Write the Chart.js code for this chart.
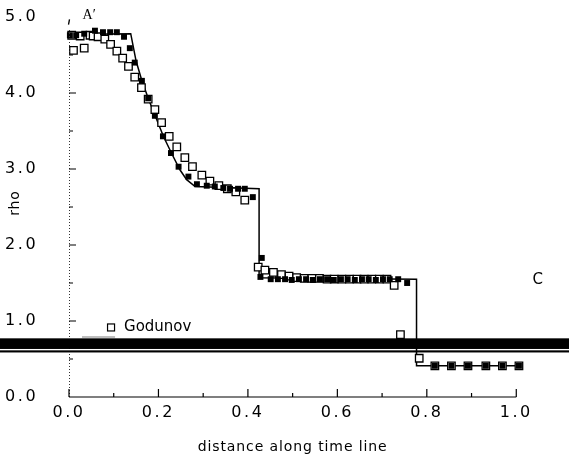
<!DOCTYPE html>
<html><head><meta charset="utf-8">
<script src="https://cdn.jsdelivr.net/npm/chart.js@4/dist/chart.umd.min.js"></script>
<style>html,body{margin:0;padding:0;background:#fff}</style>
</head><body>
<canvas id="c" width="569" height="468"></canvas>
<script>
// ---- tick labels ----
const xTicks = [0, 0.2, 0.4, 0.6, 0.8, 1.0];
const xMinorTicks = [0.1, 0.3, 0.5, 0.7, 0.9];
const yTicks = [0, 1, 2, 3, 4, 5];
const yMinorTicks = [0.5, 1.5, 2.5, 3.5, 4.5];

// ---- exact solution (solid line) : [distance, rho] ----
const exactPts = [
  [0, 4.77], [0.138, 4.78], [0.150, 4.42], [0.162, 4.18], [0.177, 3.93], [0.192, 3.71],
  [0.211, 3.43], [0.229, 3.21], [0.248, 2.99], [0.263, 2.86], [0.282, 2.77],
  [0.425, 2.74], [0.425, 1.57], [0.777, 1.55], [0.777, 0.41], [1.006, 0.41]
];

// ---- Godunov (open squares) ----
const godunovPts = [
  [0.006,4.76],[0.010,4.56],[0.025,4.75],[0.034,4.59],[0.047,4.76],[0.054,4.75],[0.065,4.74],
  [0.080,4.71],[0.093,4.64],[0.107,4.55],[0.120,4.46],[0.133,4.35],[0.147,4.21],[0.162,4.07],
  [0.177,3.92],[0.192,3.78],[0.207,3.61],[0.224,3.43],[0.241,3.29],[0.259,3.15],[0.276,3.03],
  [0.297,2.92],[0.315,2.84],[0.335,2.78],[0.354,2.74],[0.373,2.70],[0.393,2.59],
  [0.423,1.71],[0.438,1.67],[0.457,1.64],[0.475,1.61],[0.492,1.59],[0.509,1.57],[0.526,1.56],
  [0.543,1.56],[0.560,1.56],[0.577,1.55],[0.593,1.55],[0.610,1.55],[0.627,1.55],[0.644,1.55],
  [0.660,1.55],[0.677,1.55],[0.694,1.55],[0.711,1.55],[0.727,1.47],[0.741,0.82],[0.783,0.51],
  [0.818,0.41],[0.855,0.41],[0.892,0.41],[0.932,0.41],[0.969,0.41],[1.006,0.41]
];

// ---- second scheme (filled squares) ----
const filledPts = [
  [0.002,4.76],[0.016,4.76],[0.034,4.78],[0.058,4.82],[0.076,4.80],[0.092,4.80],[0.107,4.80],
  [0.123,4.74],[0.136,4.59],[0.147,4.40],[0.163,4.16],[0.177,3.93],[0.192,3.70],[0.210,3.43],
  [0.228,3.21],[0.245,3.03],[0.267,2.90],[0.286,2.80],[0.308,2.78],[0.326,2.77],[0.345,2.75],
  [0.360,2.74],[0.378,2.74],[0.393,2.74],[0.411,2.63],[0.431,1.83],[0.428,1.58],[0.451,1.55],
  [0.467,1.55],[0.483,1.55],[0.498,1.54],[0.514,1.55],[0.530,1.55],[0.545,1.54],[0.561,1.55],
  [0.577,1.55],[0.592,1.54],[0.608,1.55],[0.623,1.55],[0.639,1.54],[0.655,1.55],[0.670,1.55],
  [0.686,1.54],[0.702,1.55],[0.717,1.55],[0.736,1.55],[0.756,1.50],
  [0.818,0.41],[0.855,0.41],[0.892,0.41],[0.932,0.41],[0.969,0.41],[1.006,0.41]
];

// ---- texts ----
const xTitle = 'distance along time line';
const yTitle = 'rho';
const labelA = [0.045, 5.02, 'A\u2032'];
const labelC = [1.048, 1.54, 'C'];
const legendText = [0.123, 0.92, 'Godunov'];
const legendMarker = [0.094, 0.915];
const legendRule = [0.029, 0.103, 0.79];
// scan band (rho levels of its edges)
const bandLevels = [0.772, 0.632, 0.614, 0.586];

const toXY = a => a.map(p => ({x: p[0], y: p[1]}));
const FONT = 'DejaVu Sans';

const deco = {
  id: 'deco',
  beforeDraw(chart) { chart.ctx.letterSpacing = '2.6px'; },
  afterDraw(chart) {
    const {ctx, scales: {x, y}} = chart;
    ctx.save();
    ctx.letterSpacing = '0px';
    const X = v => x.getPixelForValue(v), Y = v => y.getPixelForValue(v);
    // left axis (dotted)
    ctx.strokeStyle = '#333'; ctx.lineWidth = 1; ctx.setLineDash([1, 2]);
    ctx.beginPath(); ctx.moveTo(X(0) + 0.5, Y(0)); ctx.lineTo(X(0) + 0.5, Y(4.85)); ctx.stroke();
    ctx.setLineDash([]);
    ctx.lineWidth = 1.3; ctx.strokeStyle = '#000';
    ctx.beginPath(); ctx.moveTo(X(0) + 0.5, Y(4.97)); ctx.lineTo(X(0) - 0.5, Y(4.9)); ctx.stroke();
    // bottom axis
    ctx.strokeStyle = '#000'; ctx.lineWidth = 1.2;
    ctx.beginPath(); ctx.moveTo(X(0), Y(0)); ctx.lineTo(X(1.0), Y(0)); ctx.stroke();
    // ticks
    ctx.beginPath();
    xTicks.forEach(v => { ctx.moveTo(X(v), Y(0)); ctx.lineTo(X(v), Y(0) - 8); });
    xMinorTicks.forEach(v => { ctx.moveTo(X(v), Y(0)); ctx.lineTo(X(v), Y(0) - 4); });
    yTicks.slice(1, 5).forEach(v => { ctx.moveTo(X(0), Y(v)); ctx.lineTo(X(0) + 7, Y(v)); });
    yMinorTicks.forEach(v => { ctx.moveTo(X(0), Y(v)); ctx.lineTo(X(0) + 4, Y(v)); });
    ctx.stroke();
    // axis titles
    ctx.fillStyle = '#000';
    ctx.textBaseline = 'middle';
    ctx.textAlign = 'center';
    ctx.font = '14px "' + FONT + '"';
    ctx.letterSpacing = '0.9px';
    ctx.fillText(xTitle, X(0.5), 447);
    ctx.save();
    ctx.translate(15, 203);
    ctx.rotate(-Math.PI / 2);
    ctx.fillText(yTitle, 0, 0);
    ctx.restore();
    ctx.letterSpacing = '0px';
    // annotations
    ctx.font = '14px "Liberation Serif"';
    ctx.fillText(labelA[2], X(labelA[0]), Y(labelA[1]));
    ctx.font = '15px "' + FONT + '"';
    ctx.fillText(labelC[2], X(labelC[0]), Y(labelC[1]));
    // legend
    ctx.textAlign = 'left';
    ctx.fillText(legendText[2], X(legendText[0]), Y(legendText[1]));
    ctx.lineWidth = 1.2; ctx.strokeStyle = '#000';
    ctx.strokeRect(X(legendMarker[0]) - 3.5, Y(legendMarker[1]) - 3.5, 7, 7);
    ctx.strokeStyle = '#aaa'; ctx.lineWidth = 1.5;
    ctx.beginPath(); ctx.moveTo(X(legendRule[0]), Y(legendRule[2])); ctx.lineTo(X(legendRule[1]), Y(legendRule[2])); ctx.stroke();
    // scan band
    const W = chart.width;
    ctx.fillStyle = '#000';
    ctx.fillRect(0, Y(bandLevels[0]), W, Y(bandLevels[1]) - Y(bandLevels[0]));
    ctx.fillRect(0, Y(bandLevels[2]), W, Y(bandLevels[3]) - Y(bandLevels[2]));
    ctx.restore();
  }
};

new Chart(document.getElementById('c'), {
  type: 'scatter',
  data: {datasets: [
    {label: 'exact', data: toXY(exactPts), showLine: true, borderColor: '#000', borderWidth: 1.5,
     pointRadius: 0, tension: 0, order: 3, clip: false},
    {label: 'Godunov', data: toXY(godunovPts), showLine: false, pointStyle: 'rect', pointRadius: 5.3,
     pointBackgroundColor: '#fff', pointBorderColor: '#000', pointBorderWidth: 1.3, order: 2, clip: false},
    {label: 'scheme', data: toXY(filledPts), showLine: false, pointStyle: 'rect', pointRadius: 4.2,
     pointBackgroundColor: '#000', pointBorderColor: '#000', pointBorderWidth: 0, order: 1, clip: false}
  ]},
  options: {
    responsive: false, animation: false, events: [],
    layout: {padding: {top: 17, right: 8, left: 5, bottom: 0}},
    plugins: {legend: {display: false}, tooltip: {enabled: false}},
    scales: {
      x: {
        type: 'linear', min: 0, max: 1.1,
        afterBuildTicks: s => { s.ticks = xTicks.map(v => ({value: v})); },
        afterFit: s => { s.height = 71; },
        grid: {display: false, drawTicks: false}, border: {display: false},
        ticks: {padding: 6, color: '#000', font: {family: FONT, size: 16}, maxRotation: 0, autoSkip: false,
                callback: v => v.toFixed(1)},
        title: {display: false}
      },
      y: {
        type: 'linear', min: 0, max: 5,
        afterBuildTicks: s => { s.ticks = yTicks.map(v => ({value: v})); },
        afterFit: s => { s.width = 64; s.paddingTop = 10; s.paddingBottom = 10; },
        grid: {display: false, drawTicks: false}, border: {display: false},
        ticks: {padding: 0, crossAlign: 'far', color: '#000', font: {family: FONT, size: 16},
                callback: v => v.toFixed(1)},
        title: {display: false}
      }
    }
  },
  plugins: [deco]
});
</script>
</body></html>
